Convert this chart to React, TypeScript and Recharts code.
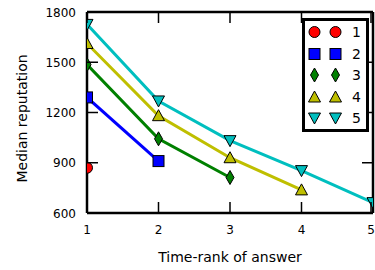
import React from "react";
import { LineChart, Line, XAxis, YAxis, Legend } from "recharts";

const ranks = [1, 2, 3, 4, 5];
const yTicks = [600, 900, 1200, 1500, 1800];

const series1 = [870];
const series2 = [1290, 910];
const series3 = [1486, 1043, 812];
const series4 = [1612, 1181, 930, 738];
const series5 = [1726, 1269, 1032, 853, 662];

const seriesNames = ["1", "2", "3", "4", "5"];
const seriesValues = [series1, series2, series3, series4, series5];
const seriesColors = ["#ff0000", "#0000ff", "#008000", "#bfbf00", "#00bfbf"];
const seriesShapes = ["circle", "square", "diamond", "triangle", "triangleDown"];

const data = ranks.map((rank, i) => {
  const row: Record<string, number | null> = { rank };
  seriesValues.forEach((vals, s) => {
    row["s" + (s + 1)] = i < vals.length ? vals[i] : null;
  });
  return row;
});

const FONT = "'DejaVu Sans', sans-serif";

// layout of the chart
const W = 375;
const H = 270;
const LEFT = 87;
const TOP = 12;
const RIGHT = 2;
const BOTTOM = 57;

function Marker({ shape, cx, cy, fill }: { shape: string; cx: number; cy: number; fill: string }) {
  const stroke = "#000";
  const sw = 1;
  if (shape === "circle") return <circle cx={cx} cy={cy} r={5.5} fill={fill} stroke={stroke} strokeWidth={sw} />;
  if (shape === "square")
    return <rect x={cx - 5.5} y={cy - 5.5} width={11} height={11} fill={fill} stroke={stroke} strokeWidth={sw} />;
  if (shape === "diamond")
    return (
      <polygon
        points={`${cx},${cy - 7} ${cx + 4},${cy} ${cx},${cy + 7} ${cx - 4},${cy}`}
        fill={fill}
        stroke={stroke}
        strokeWidth={sw}
      />
    );
  if (shape === "triangle")
    return (
      <polygon
        points={`${cx},${cy - 6} ${cx + 6},${cy + 5} ${cx - 6},${cy + 5}`}
        fill={fill}
        stroke={stroke}
        strokeWidth={sw}
      />
    );
  return (
    <polygon
      points={`${cx - 6},${cy - 5} ${cx + 6},${cy - 5} ${cx},${cy + 6}`}
      fill={fill}
      stroke={stroke}
      strokeWidth={sw}
    />
  );
}

// dots are clipped to the plot area, like the axes clip in the original
const makeDot = (s: number) => (props: any) => {
  const { cx, cy, value, key, index } = props;
  if (value == null || cx == null || cy == null) return <g key={key} />;
  const id = `dotclip-${s}-${index}`;
  return (
    <g key={key}>
      <clipPath id={id}>
        <rect x={LEFT} y={TOP} width={W - LEFT - RIGHT} height={H - TOP - BOTTOM} />
      </clipPath>
      <g clipPath={`url(#${id})`}>
        <Marker shape={seriesShapes[s]} cx={cx} cy={cy} fill={seriesColors[s]} />
      </g>
    </g>
  );
};

const BottomTick = (props: any) => {
  const { x, y, payload } = props;
  return (
    <g>
      <line x1={x} y1={y} x2={x} y2={y - 11} stroke="#000" strokeWidth={1.5} />
      <text x={x} y={y + 21} textAnchor="middle" fontSize={12} fontFamily={FONT} fill="#000">
        {payload.value}
      </text>
    </g>
  );
};

const TopTick = (props: any) => {
  const { x, y } = props;
  return <line x1={x} y1={y} x2={x} y2={y + 11} stroke="#000" strokeWidth={1.5} />;
};

const LeftTick = (props: any) => {
  const { x, y, payload } = props;
  return (
    <g>
      <line x1={x} y1={y} x2={x + 11} y2={y} stroke="#000" strokeWidth={1.5} />
      <text x={x - 11} y={y + 4.5} textAnchor="end" fontSize={12} fontFamily={FONT} fill="#000">
        {payload.value}
      </text>
    </g>
  );
};

const RightTick = (props: any) => {
  const { x, y } = props;
  return <line x1={x} y1={y} x2={x - 11} y2={y} stroke="#000" strokeWidth={1.5} />;
};

function LegendBox() {
  return (
    <div
      style={{
        border: "3px solid #000",
        background: "#fff",
        width: 67,
        height: 114,
        boxSizing: "border-box",
        paddingTop: 0.5,
      }}
    >
      {seriesNames.map((name, s) => (
        <div key={name} style={{ display: "flex", alignItems: "center", height: 21.5 }}>
          <svg width={44} height={20} style={{ display: "block" }}>
            <Marker shape={seriesShapes[s]} cx={9.5} cy={10} fill={seriesColors[s]} />
            <Marker shape={seriesShapes[s]} cx={30.5} cy={10} fill={seriesColors[s]} />
          </svg>
          <span style={{ fontFamily: FONT, fontSize: 14, color: "#000", marginLeft: 3 }}>{name}</span>
        </div>
      ))}
    </div>
  );
}

export default function App() {
  return (
    <div style={{ position: "absolute", left: 0, top: 0, width: W, height: H, background: "#fff" }}>
      <LineChart width={W} height={H} data={data} margin={{ top: TOP - 1, right: RIGHT - 1, bottom: 0, left: 0 }}>
        <XAxis
          xAxisId="bottom"
          dataKey="rank"
          type="number"
          domain={[1, 5]}
          ticks={ranks}
          allowDataOverflow
          height={BOTTOM}
          tickSize={0}
          tickMargin={0}
          tickLine={false}
          axisLine={{ stroke: "#000", strokeWidth: 2.5 }}
          tick={BottomTick}
          label={{
            value: "Time-rank of answer",
            position: "insideBottom",
            offset: 8,
            fontSize: 14,
            fontFamily: FONT,
            fill: "#000",
          }}
        />
        <XAxis
          xAxisId="top"
          dataKey="rank"
          type="number"
          orientation="top"
          domain={[1, 5]}
          ticks={ranks}
          allowDataOverflow
          height={1}
          tickSize={0}
          tickMargin={0}
          tickLine={false}
          axisLine={{ stroke: "#000", strokeWidth: 2.5 }}
          tick={TopTick}
        />
        <YAxis
          yAxisId="left"
          type="number"
          domain={[600, 1800]}
          ticks={yTicks}
          allowDataOverflow
          width={LEFT}
          tickSize={0}
          tickMargin={0}
          tickLine={false}
          axisLine={{ stroke: "#000", strokeWidth: 2.5 }}
          tick={LeftTick}
          label={{
            value: "Median reputation",
            angle: -90,
            position: "insideLeft",
            offset: 22,
            dy: 70,
            fontSize: 14,
            fontFamily: FONT,
            fill: "#000",
          }}
        />
        <YAxis
          yAxisId="right"
          orientation="right"
          type="number"
          domain={[600, 1800]}
          ticks={yTicks}
          allowDataOverflow
          width={1}
          tickSize={0}
          tickMargin={0}
          tickLine={false}
          axisLine={{ stroke: "#000", strokeWidth: 2.5 }}
          tick={RightTick}
        />
        <Legend
          layout="horizontal"
          verticalAlign="middle"
          align="center"
          content={() => <LegendBox />}
          wrapperStyle={{ position: "absolute", left: 302, top: 18, width: 67, height: 114 }}
        />
        {seriesNames.map((name, s) => (
          <Line
            key={name}
            xAxisId="bottom"
            yAxisId="left"
            dataKey={"s" + (s + 1)}
            name={name}
            type="linear"
            stroke={seriesColors[s]}
            strokeWidth={3}
            dot={makeDot(s)}
            activeDot={false}
            isAnimationActive={false}
            connectNulls={false}
          />
        ))}
      </LineChart>
    </div>
  );
}
